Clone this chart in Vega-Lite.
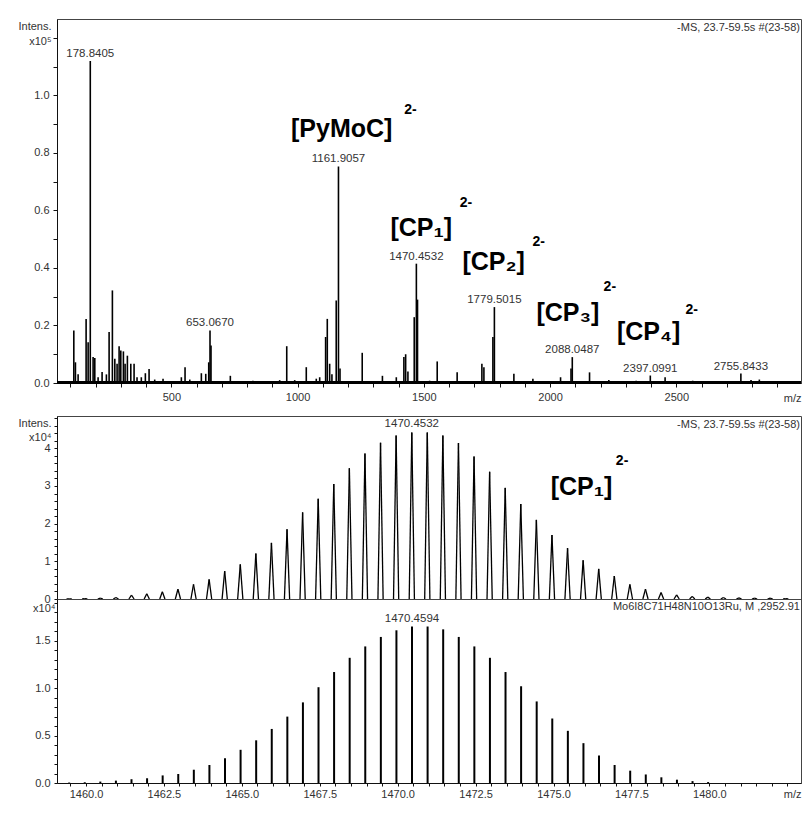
{
  "$schema": "https://vega.github.io/schema/vega-lite/v6.json",
  "background": "white",
  "autosize": {"type": "pad"},
  "padding": {"left": 17, "top": 18, "right": 3, "bottom": 5},
  "config": {
    "font": "Liberation Sans",
    "view": {"stroke": "#444", "strokeWidth": 1},
    "axis": {
      "domainColor": "#111", "tickColor": "#111", "labelColor": "#333",
      "labelFont": "Liberation Sans", "labelFontSize": 11,
      "titleFont": "Liberation Sans", "titleFontSize": 11, "titleFontWeight": "normal", "titleColor": "#333",
      "grid": false, "tickSize": 4, "labelFlush": false, "labelOverlap": false
    },
    "text": {"font": "Liberation Sans"}
  },
  "spacing": 33,
  "bounds": "flush",
  "vconcat": [
    {
      "width": 744,
      "height": 364,
      "data": {"values": [
        {"mz":113.6,"i":0.183},{"mz":120,"i":0.072},{"mz":130.6,"i":0.03},{"mz":162.3,"i":0.223},{"mz":170.3,"i":0.142},
        {"mz":178.8405,"i":1.12,"lab":"178.8405"},{"mz":190,"i":0.09},{"mz":196.7,"i":0.087},{"mz":209.8,"i":0.02},{"mz":225.6,"i":0.038},
        {"mz":242.7,"i":0.03},{"mz":253.4,"i":0.177},{"mz":266.4,"i":0.322},{"mz":276,"i":0.084},{"mz":285,"i":0.067},
        {"mz":293,"i":0.128},{"mz":299.7,"i":0.113},{"mz":310,"i":0.11},{"mz":316.7,"i":0.067},{"mz":325.8,"i":0.095},
        {"mz":339.3,"i":0.067},{"mz":352.3,"i":0.067},{"mz":364,"i":0.02},{"mz":381,"i":0.02},{"mz":397,"i":0.034},
        {"mz":411.7,"i":0.049},{"mz":434,"i":0.012},{"mz":467,"i":0.015},{"mz":539.6,"i":0.02},{"mz":554.2,"i":0.055},
        {"mz":573,"i":0.012},{"mz":618.8,"i":0.034},{"mz":636.2,"i":0.032},{"mz":648,"i":0.072},
        {"mz":653.067,"i":0.183,"lab":"653.0670"},{"mz":657,"i":0.13},{"mz":733.6,"i":0.025},{"mz":823,"i":0.008},
        {"mz":929,"i":0.01},{"mz":957,"i":0.128},{"mz":988.5,"i":0.01},{"mz":1034.4,"i":0.055},{"mz":1074,"i":0.015},
        {"mz":1087.5,"i":0.02},{"mz":1111,"i":0.16},{"mz":1117.6,"i":0.223},{"mz":1127,"i":0.067},{"mz":1136,"i":0.03},
        {"mz":1153,"i":0.287},{"mz":1161.9057,"i":0.753,"lab":"1161.9057"},{"mz":1168,"i":0.05},{"mz":1256,"i":0.105},
        {"mz":1336,"i":0.025},{"mz":1391,"i":0.02},{"mz":1421,"i":0.09},{"mz":1428,"i":0.1},{"mz":1437,"i":0.04},
        {"mz":1462,"i":0.229},{"mz":1470.4532,"i":0.415,"lab":"1470.4532"},{"mz":1475,"i":0.29},{"mz":1523,"i":0.008},
        {"mz":1553,"i":0.075},{"mz":1632,"i":0.037},{"mz":1690,"i":0.005},{"mz":1730,"i":0.067},{"mz":1738,"i":0.055},
        {"mz":1773.6,"i":0.16},{"mz":1779.5015,"i":0.264,"lab":"1779.5015"},{"mz":1856.7,"i":0.032},{"mz":1932,"i":0.015},
        {"mz":2041.6,"i":0.02},{"mz":2083,"i":0.05},{"mz":2088.0487,"i":0.09,"lab":"2088.0487"},{"mz":2156.4,"i":0.037},
        {"mz":2232.8,"i":0.01},{"mz":2341,"i":0.008},{"mz":2397.0991,"i":0.026,"lab":"2397.0991"},{"mz":2455.7,"i":0.02},
        {"mz":2565,"i":0.008},{"mz":2755.8433,"i":0.033,"lab":"2755.8433"},{"mz":2796,"i":0.01},{"mz":2829,"i":0.012}
      ]},
      "resolve": {"axis": {"x": "independent", "y": "independent"}},
      "layer": [
        {
          "layer": [
            {
              "mark": {"type": "rule", "color": "black", "strokeWidth": 1.6},
              "encoding": {
                "x": {"field": "mz", "type": "quantitative",
                  "scale": {"domain": [47, 2994], "nice": false, "zero": false},
                  "axis": {
                    "orient": "bottom", "values": [500, 1000, 1500, 2000, 2500], "format": "d",
                    "labelOverlap": false, "tickSize": 4, "labelPadding": 4,
                    "title": "m/z", "titleAlign": "right", "titleBaseline": "top", "titleX": 744, "titleY": 9
                  }
                },
                "y": {"field": "i", "type": "quantitative",
                  "scale": {"domain": [0, 1.266], "nice": false},
                  "axis": {
                    "orient": "left", "values": [0, 0.2, 0.4, 0.6, 0.8, 1.0], "format": ".1f",
                    "labelOverlap": false, "tickSize": 4, "labelPadding": 4,
                    "title": ["Intens.", "x10⁵"], "titleAngle": 0, "titleAlign": "right", "titleBaseline": "top",
                    "titleX": -6, "titleY": 1, "titleLineHeight": 15
                  }
                },
                "y2": {"datum": 0}
              }
            },
            {
              "mark": {"type": "rule", "color": "black", "strokeWidth": 2},
              "encoding": {"y": {"datum": 0.002, "type": "quantitative"}}
            },
            {
              "transform": [{"filter": "isValid(datum.lab)"}],
              "mark": {"type": "text", "baseline": "bottom", "align": "center", "dy": -2, "fontSize": 11.5, "color": "#333"},
              "encoding": {
                "x": {"field": "mz", "type": "quantitative"},
                "y": {"field": "i", "type": "quantitative"},
                "text": {"field": "lab", "type": "nominal"}
              }
            },
            {
              "data": {"values": [
                {"t": "[PyMoC]", "mz": 1174.6, "i": 0.882},
                {"t": "[CP₁]", "mz": 1490, "i": 0.538},
                {"t": "[CP₂]", "mz": 1776.7, "i": 0.42},
                {"t": "[CP₃]", "mz": 2070.5, "i": 0.242},
                {"t": "[CP₄]", "mz": 2390.3, "i": 0.176}
              ]},
              "mark": {"type": "text", "fontWeight": "bold", "fontSize": 25, "align": "center", "baseline": "middle", "color": "black"},
              "encoding": {
                "x": {"field": "mz", "type": "quantitative"},
                "y": {"field": "i", "type": "quantitative"},
                "text": {"field": "t", "type": "nominal"}
              }
            },
            {
              "data": {"values": [
                {"t": "2-", "mz": 1447, "i": 0.948},
                {"t": "2-", "mz": 1667, "i": 0.627},
                {"t": "2-", "mz": 1954.9, "i": 0.492},
                {"t": "2-", "mz": 2236.8, "i": 0.335},
                {"t": "2-", "mz": 2561, "i": 0.254}
              ]},
              "mark": {"type": "text", "fontWeight": "bold", "fontSize": 14, "align": "center", "baseline": "middle", "color": "black"},
              "encoding": {
                "x": {"field": "mz", "type": "quantitative"},
                "y": {"field": "i", "type": "quantitative"},
                "text": {"field": "t", "type": "nominal"}
              }
            },
            {
              "data": {"values": [{"note": "-MS, 23.7-59.5s #(23-58)"}]},
              "mark": {"type": "text", "align": "right", "baseline": "top", "dx": -1, "dy": 3, "fontSize": 11, "color": "#333"},
              "encoding": {
                "x": {"datum": 2994, "type": "quantitative"},
                "y": {"datum": 1.266, "type": "quantitative"},
                "text": {"field": "note", "type": "nominal"}
              }
            }
          ]
        },
        {
          "transform": [{"filter": "isValid(datum.lab)"}],
          "mark": {"type": "text", "opacity": 0},
          "encoding": {
            "x": {"field": "mz", "type": "quantitative",
              "axis": {"orient": "bottom", "values": [100,200,300,400,600,700,800,900,1100,1200,1300,1400,1600,1700,1800,1900,2100,2200,2300,2400,2600,2700,2800,2900],
                "labels": false, "domain": false, "title": null, "tickSize": 4}
            },
            "y": {"field": "i", "type": "quantitative",
              "axis": {"orient": "left", "values": [0.1, 0.3, 0.5, 0.7, 0.9, 1.1, 1.2],
                "labels": false, "domain": false, "title": null, "tickSize": 4}
            },
            "text": {"field": "lab", "type": "nominal"}
          }
        }
      ]
    },
    {
      "spacing": 0,
      "bounds": "flush",
      "vconcat": [
        {
          "width": 744,
          "height": 183,
          "data": {"values": [
            {"mz":1459.46,"i":0.005},{"mz":1459.96,"i":0.01},{"mz":1460.46,"i":0.02},{"mz":1460.96,"i":0.04},
            {"mz":1461.46,"i":0.1},{"mz":1461.95,"i":0.14},{"mz":1462.45,"i":0.19},{"mz":1462.95,"i":0.26},
            {"mz":1463.45,"i":0.39},{"mz":1463.95,"i":0.52},{"mz":1464.45,"i":0.74},{"mz":1464.95,"i":0.92},
            {"mz":1465.45,"i":1.21},{"mz":1465.95,"i":1.49},{"mz":1466.45,"i":1.85},{"mz":1466.95,"i":2.3},
            {"mz":1467.45,"i":2.66},{"mz":1467.95,"i":3.05},{"mz":1468.45,"i":3.47},{"mz":1468.95,"i":3.86},
            {"mz":1469.45,"i":4.15},{"mz":1469.95,"i":4.34},{"mz":1470.4532,"i":4.42,"lab":"1470.4532"},{"mz":1470.95,"i":4.42},
            {"mz":1471.45,"i":4.34},{"mz":1471.95,"i":4.14},{"mz":1472.45,"i":3.78},{"mz":1472.95,"i":3.38},
            {"mz":1473.45,"i":2.95},{"mz":1473.95,"i":2.52},{"mz":1474.45,"i":2.1},{"mz":1474.95,"i":1.7},
            {"mz":1475.45,"i":1.35},{"mz":1475.95,"i":1.03},{"mz":1476.45,"i":0.8},{"mz":1476.95,"i":0.61},
            {"mz":1477.45,"i":0.39},{"mz":1477.95,"i":0.26},{"mz":1478.45,"i":0.17},{"mz":1478.95,"i":0.11},
            {"mz":1479.45,"i":0.07},{"mz":1479.95,"i":0.05},{"mz":1480.45,"i":0.04},{"mz":1480.95,"i":0.03},
            {"mz":1481.45,"i":0.02},{"mz":1481.95,"i":0.02},{"mz":1482.45,"i":0.01}
          ]},
          "resolve": {"axis": {"y": "independent"}},
          "layer": [
            {
              "layer": [
                {
                  "mark": {"type": "rule", "color": "black", "strokeWidth": 1.3, "x2Offset": 2.6},
                  "encoding": {
                    "x": {"field": "mz", "type": "quantitative",
                      "scale": {"domain": [1459.07, 1482.94], "nice": false, "zero": false},
                      "axis": {"labels": false, "ticks": false, "title": null, "domainColor": "#111"}
                    },
                    "y": {"field": "i", "type": "quantitative",
                      "scale": {"domain": [0, 4.858], "nice": false},
                      "axis": {
                        "orient": "left", "values": [0, 1, 2, 3, 4], "format": "d",
                        "labelOverlap": false, "tickSize": 3, "labelPadding": 4,
                        "title": ["Intens.", "x10⁴"], "titleAngle": 0, "titleAlign": "right", "titleBaseline": "top",
                        "titleX": -6, "titleY": 1, "titleLineHeight": 14
                      }
                    },
                    "x2": {"field": "mz"},
                    "y2": {"datum": 0}
                  }
                },
                {
                  "mark": {"type": "rule", "color": "black", "strokeWidth": 1.3, "x2Offset": -2.6},
                  "encoding": {
                    "x": {"field": "mz", "type": "quantitative"},
                    "y": {"field": "i", "type": "quantitative"},
                    "x2": {"field": "mz"},
                    "y2": {"datum": 0}
                  }
                },
                {
                  "transform": [{"filter": "isValid(datum.lab)"}],
                  "mark": {"type": "text", "baseline": "bottom", "align": "center", "dy": -3, "fontSize": 11.5, "color": "#333"},
                  "encoding": {
                    "x": {"field": "mz", "type": "quantitative"},
                    "y": {"field": "i", "type": "quantitative"},
                    "text": {"field": "lab", "type": "nominal"}
                  }
                },
                {
                  "data": {"values": [{"t": "[CP₁]", "mz": 1475.9, "i": 2.97}]},
                  "mark": {"type": "text", "fontWeight": "bold", "fontSize": 25, "align": "center", "baseline": "middle", "color": "black"},
                  "encoding": {
                    "x": {"field": "mz", "type": "quantitative"},
                    "y": {"field": "i", "type": "quantitative"},
                    "text": {"field": "t", "type": "nominal"}
                  }
                },
                {
                  "data": {"values": [{"t": "2-", "mz": 1477.2, "i": 3.66}]},
                  "mark": {"type": "text", "fontWeight": "bold", "fontSize": 14, "align": "center", "baseline": "middle", "color": "black"},
                  "encoding": {
                    "x": {"field": "mz", "type": "quantitative"},
                    "y": {"field": "i", "type": "quantitative"},
                    "text": {"field": "t", "type": "nominal"}
                  }
                },
                {
                  "data": {"values": [{"note": "-MS, 23.7-59.5s #(23-58)"}]},
                  "mark": {"type": "text", "align": "right", "baseline": "top", "dx": -1, "dy": 3, "fontSize": 11, "color": "#333"},
                  "encoding": {
                    "x": {"datum": 1482.94, "type": "quantitative"},
                    "y": {"datum": 4.858, "type": "quantitative"},
                    "text": {"field": "note", "type": "nominal"}
                  }
                }
              ]
            },
            {
              "transform": [{"filter": "isValid(datum.lab)"}],
              "mark": {"type": "text", "opacity": 0},
              "encoding": {
                "x": {"field": "mz", "type": "quantitative"},
                "y": {"field": "i", "type": "quantitative",
                  "axis": {"orient": "left", "values": [0.2,0.4,0.6,0.8,1.2,1.4,1.6,1.8,2.2,2.4,2.6,2.8,3.2,3.4,3.6,3.8,4.2,4.4,4.6,4.8],
                    "labels": false, "domain": false, "title": null, "tickSize": 3}
                },
                "text": {"field": "lab", "type": "nominal"}
              }
            }
          ]
        },
        {
          "width": 744,
          "height": 184,
          "data": {"values": [
            {"mz":1459.46,"i":0.005},{"mz":1459.96,"i":0.008},{"mz":1460.46,"i":0.015},{"mz":1460.96,"i":0.025},
            {"mz":1461.46,"i":0.04},{"mz":1461.96,"i":0.05},{"mz":1462.46,"i":0.08},{"mz":1462.96,"i":0.095},
            {"mz":1463.46,"i":0.14},{"mz":1463.96,"i":0.19},{"mz":1464.46,"i":0.26},{"mz":1464.96,"i":0.35},
            {"mz":1465.46,"i":0.45},{"mz":1465.96,"i":0.57},{"mz":1466.46,"i":0.7},{"mz":1466.96,"i":0.85},
            {"mz":1467.46,"i":1.01},{"mz":1467.96,"i":1.17},{"mz":1468.46,"i":1.32},{"mz":1468.96,"i":1.44},
            {"mz":1469.46,"i":1.54},{"mz":1469.96,"i":1.61},{"mz":1470.4594,"i":1.65,"lab":"1470.4594"},{"mz":1470.96,"i":1.65},
            {"mz":1471.46,"i":1.62},{"mz":1471.96,"i":1.54},{"mz":1472.46,"i":1.44},{"mz":1472.96,"i":1.32},
            {"mz":1473.46,"i":1.17},{"mz":1473.96,"i":1.02},{"mz":1474.46,"i":0.86},{"mz":1474.96,"i":0.68},
            {"mz":1475.46,"i":0.55},{"mz":1475.96,"i":0.42},{"mz":1476.46,"i":0.29},{"mz":1476.96,"i":0.19},
            {"mz":1477.46,"i":0.13},{"mz":1477.96,"i":0.09},{"mz":1478.46,"i":0.06},{"mz":1478.96,"i":0.035},
            {"mz":1479.46,"i":0.02},{"mz":1479.96,"i":0.01}
          ]},
          "resolve": {"axis": {"x": "independent", "y": "independent"}},
          "layer": [
            {
              "layer": [
                {
                  "mark": {"type": "rule", "color": "black", "strokeWidth": 2},
                  "encoding": {
                    "x": {"field": "mz", "type": "quantitative",
                      "scale": {"domain": [1459.07, 1482.94], "nice": false, "zero": false},
                      "axis": {
                        "orient": "bottom", "values": [1460, 1462.5, 1465, 1467.5, 1470, 1472.5, 1475, 1477.5, 1480], "format": ".1f",
                        "labelOverlap": false, "tickSize": 3, "labelPadding": 2,
                        "title": "m/z", "titleAlign": "right", "titleBaseline": "top", "titleX": 744, "titleY": 5
                      }
                    },
                    "y": {"field": "i", "type": "quantitative",
                      "scale": {"domain": [0, 1.94], "nice": false},
                      "axis": {
                        "orient": "left", "values": [0, 0.5, 1.0, 1.5], "format": ".1f",
                        "labelOverlap": false, "tickSize": 3, "labelPadding": 4,
                        "title": "x10⁴", "titleAngle": 0, "titleAlign": "right", "titleBaseline": "top",
                        "titleX": -2, "titleY": 3
                      }
                    },
                    "y2": {"datum": 0}
                  }
                },
                {
                  "transform": [{"filter": "isValid(datum.lab)"}],
                  "mark": {"type": "text", "baseline": "bottom", "align": "center", "dy": -3, "fontSize": 11.5, "color": "#333"},
                  "encoding": {
                    "x": {"field": "mz", "type": "quantitative"},
                    "y": {"field": "i", "type": "quantitative"},
                    "text": {"field": "lab", "type": "nominal"}
                  }
                },
                {
                  "data": {"values": [{"note": "Mo6I8C71H48N10O13Ru, M ,2952.91"}]},
                  "mark": {"type": "text", "align": "right", "baseline": "top", "dx": -1, "dy": 2, "fontSize": 11, "color": "#333"},
                  "encoding": {
                    "x": {"datum": 1482.94, "type": "quantitative"},
                    "y": {"datum": 1.94, "type": "quantitative"},
                    "text": {"field": "note", "type": "nominal"}
                  }
                }
              ]
            },
            {
              "transform": [{"filter": "isValid(datum.lab)"}],
              "mark": {"type": "text", "opacity": 0},
              "encoding": {
                "x": {"field": "mz", "type": "quantitative",
                  "axis": {"orient": "bottom", "values": [1459.5,1460.5,1461,1461.5,1462,1463,1463.5,1464,1464.5,1465.5,1466,1466.5,1467,1468,1468.5,1469,1469.5,1470.5,1471,1471.5,1472,1473,1473.5,1474,1474.5,1475.5,1476,1476.5,1477,1478,1478.5,1479,1479.5,1480.5,1481,1481.5,1482,1482.5],
                    "labels": false, "domain": false, "title": null, "tickSize": 3}
                },
                "y": {"field": "i", "type": "quantitative",
                  "axis": {"orient": "left", "values": [0.1,0.2,0.3,0.4,0.6,0.7,0.8,0.9,1.1,1.2,1.3,1.4,1.6,1.7,1.8,1.9],
                    "labels": false, "domain": false, "title": null, "tickSize": 3}
                },
                "text": {"field": "lab", "type": "nominal"}
              }
            }
          ]
        }
      ]
    }
  ]
}
